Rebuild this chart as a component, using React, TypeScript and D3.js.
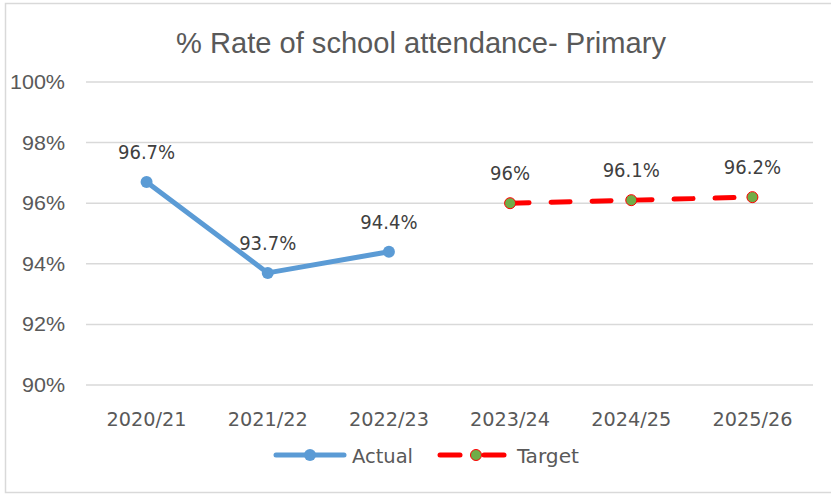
import React from 'react';
import * as d3 from 'd3';

const years = ['2020/21', '2021/22', '2022/23', '2023/24', '2024/25', '2025/26'];
const actual = [96.7, 93.7, 94.4];
const target = [96.0, 96.1, 96.2];
const actualLabels = ['96.7%', '93.7%', '94.4%'];
const targetLabels = ['96%', '96.1%', '96.2%'];
const yTicks = [90, 92, 94, 96, 98, 100];

const W = 831, H = 494;
const BLUE = '#5B9BD5', RED = '#FF0000', GREEN = '#70AD47';
const TXT = '#595959';
const LBL = 'DejaVu Sans Condensed, sans-serif';

export default function App() {
  const x = d3.scalePoint<string>().domain(years).range([86, 813]).padding(0.5);
  const y = d3.scaleLinear().domain([90, 100]).range([385, 82]);

  const line = d3.line<[string, number]>()
    .x(d => x(d[0])!)
    .y(d => y(d[1]));

  const actualPts: [string, number][] = actual.map((v, i) => [years[i], v]);
  const targetPts: [string, number][] = target.map((v, i) => [years[i + 3], v]);

  return (
    <svg width={W} height={H} style={{ position: 'absolute', left: 0, top: 0, fontFamily: 'Liberation Sans, Arial, sans-serif' }}>
      <rect x={0} y={0} width={W} height={H} fill="#fff" />
      <rect x={5.5} y={3.5} width={840} height={489} fill="none" stroke="#d9d9d9" strokeWidth={1.5} />
      {/* title */}
      <text x={176} y={53} fontSize={29} fill={TXT} textLength={490} lengthAdjust="spacingAndGlyphs">
        % Rate of school attendance- Primary
      </text>
      {yTicks.map(t => (
        <g key={t}>
          <line x1={86} x2={813} y1={y(t)} y2={y(t)} stroke="#d9d9d9" strokeWidth={1.5} />
          <text x={65} y={y(t) + 7} textAnchor="end" fontSize={20} fill={TXT} textLength={t === 100 ? 55 : 43} lengthAdjust="spacingAndGlyphs">{t}%</text>
        </g>
      ))}
      {years.map(yr => (
        <text key={yr} x={x(yr)! - 40} y={426} fontSize={20} fill={TXT} fontFamily={LBL} textLength={80} lengthAdjust="spacingAndGlyphs">{yr}</text>
      ))}
      <path d={line(actualPts)!} fill="none" stroke={BLUE} strokeWidth={5} strokeLinejoin="round" strokeLinecap="round" />
      {actualPts.map((p, i) => (
        <g key={p[0]}>
          <circle cx={x(p[0])} cy={y(p[1])} r={6} fill={BLUE} />
          <text x={x(p[0])} y={y(p[1]) - 23} textAnchor="middle" fontSize={20} fill="#404040" fontFamily={LBL}>{actualLabels[i]}</text>
        </g>
      ))}
      <path d={line(targetPts)!} fill="none" stroke={RED} strokeWidth={5} strokeDasharray="19 22" strokeLinecap="round" />
      {targetPts.map((p, i) => (
        <g key={p[0]}>
          <circle cx={x(p[0])} cy={y(p[1])} r={5.5} fill={GREEN} stroke={RED} strokeWidth={1} />
          <text x={x(p[0])} y={y(p[1]) - 23} textAnchor="middle" fontSize={20} fill="#404040" fontFamily={LBL}>{targetLabels[i]}</text>
        </g>
      ))}
      <g>
        <line x1={276} x2={344} y1={455} y2={455} stroke={BLUE} strokeWidth={5} strokeLinecap="round" />
        <circle cx={310} cy={455} r={6} fill={BLUE} />
        <text x={352} y={463} fontSize={20} fill={TXT} fontFamily={LBL} textLength={61} lengthAdjust="spacingAndGlyphs">Actual</text>
        <line x1={440} x2={460} y1={455} y2={455} stroke={RED} strokeWidth={5} strokeLinecap="round" />
        <line x1={484} x2={504} y1={455} y2={455} stroke={RED} strokeWidth={5} strokeLinecap="round" />
        <circle cx={476} cy={455} r={5.5} fill={GREEN} stroke={RED} strokeWidth={1} />
        <text x={517} y={463} fontSize={20} fill={TXT} fontFamily={LBL} textLength={62} lengthAdjust="spacingAndGlyphs">Target</text>
      </g>
    </svg>
  );
}
